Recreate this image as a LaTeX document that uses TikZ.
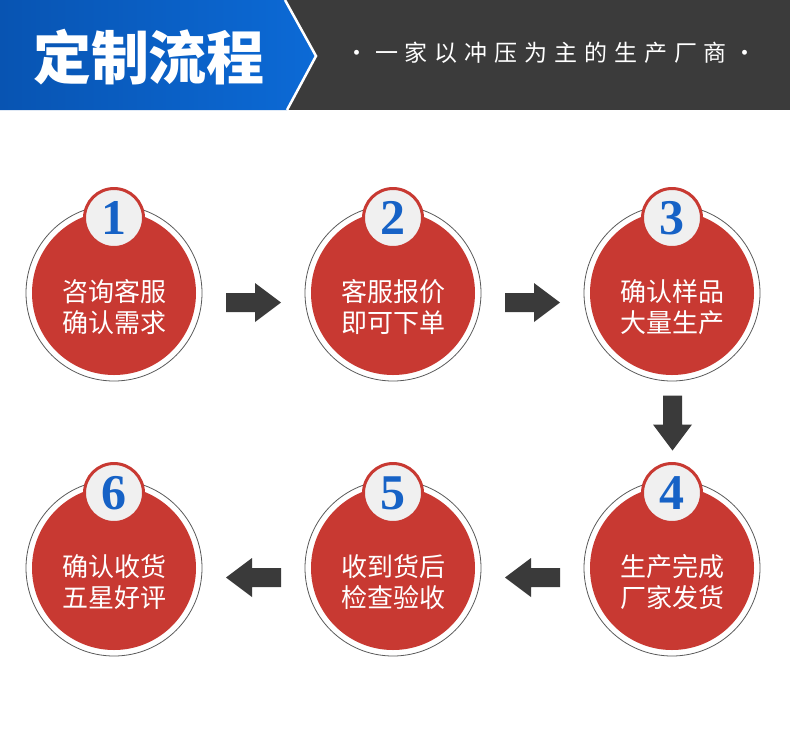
\documentclass[tikz,border=0pt]{standalone}
\usepackage{fontspec}
\setmainfont{Liberation Serif}
\newfontfamily\cjk{Noto Sans CJK SC}
\newfontfamily\cjkwide[LetterSpace=30]{Noto Sans CJK SC}
\usetikzlibrary{calc}

\definecolor{stepred}{RGB}{200,57,50}
\definecolor{headdark}{RGB}{59,59,59}
\definecolor{headblueL}{RGB}{8,84,178}
\definecolor{headblueR}{RGB}{12,106,214}
\definecolor{numblue}{RGB}{22,98,198}
\definecolor{badgegray}{RGB}{240,240,240}
\definecolor{ringgray}{RGB}{90,90,90}
\definecolor{arrowdark}{RGB}{58,58,58}

\tikzset{
  ring/.style={circle, draw=ringgray, line width=0.8pt, minimum size=176pt, inner sep=0pt},
  stepcircle/.style={circle, fill=stepred, minimum size=164pt, inner sep=0pt},
  steptext/.style={text=white, align=center, font=\cjk\fontsize{26}{31}\selectfont},
  badge/.style={circle, fill=badgegray, draw=stepred, line width=3pt, minimum size=59pt,
    inner sep=0pt, text=numblue, font=\bfseries\fontsize{50}{50}\selectfont},
  blockarr/.pic={
    \fill[arrowdark] (-27.5,-9.5) -- (1.5,-9.5) -- (1.5,-19.5) -- (27.5,0)
      -- (1.5,19.5) -- (1.5,9.5) -- (-27.5,9.5) -- cycle;
  }
}

\begin{document}
\begin{tikzpicture}[x=1pt,y=-1pt]
    \useasboundingbox (0,0) rectangle (790,732);
    \fill[white] (0,0) rectangle (790,732);

    % header band
    \fill[headdark] (0,0) rectangle (790,110);
    \shade[left color=headblueL, right color=headblueR]
      (0,0) -- (285,0) -- (316,56) -- (287,110) -- (0,110) -- cycle;
    \draw[white, line width=2.5pt] (285,0) -- (316,56) -- (287,110);
    \node[text=white, font=\cjk\bfseries\fontsize{58}{58}\selectfont] (title) at (149,57) {定制流程};
    \node[text=white, font=\cjkwide\fontsize{23}{23}\selectfont] (slogan) at (551,53) {·一家以冲压为主的生产厂商·};

    \foreach \n/\cx/\cy/\txt in {1/114/293/{咨询客服\\确认需求},
                                 2/393/293/{客服报价\\即可下单},
                                 3/672/293/{确认样品\\大量生产},
                                 4/672/568/{生产完成\\厂家发货},
                                 5/393/568/{收到货后\\检查验收},
                                 6/114/568/{确认收货\\五星好评}}{% one step per circle
      \node[ring] (r\n) at (\cx,\cy) {};
      \node[stepcircle] (s\n) at (r\n) {};
      \node[badge] (b\n) at ([yshift=75pt]s\n.center) {\n};
      \node[steptext] (t\n) at ([yshift=-14pt]s\n.center) {\txt};
    }

    % arrows between the steps
    \pic at (253.5,302.5) {blockarr};
    \pic at (532.5,302.5) {blockarr};
    \pic[rotate=-90] at (672.5,423) {blockarr};
    \pic[rotate=180] at (532.5,577.5) {blockarr};
    \pic[rotate=180] at (253.5,577.5) {blockarr};
\end{tikzpicture}
\end{document}
